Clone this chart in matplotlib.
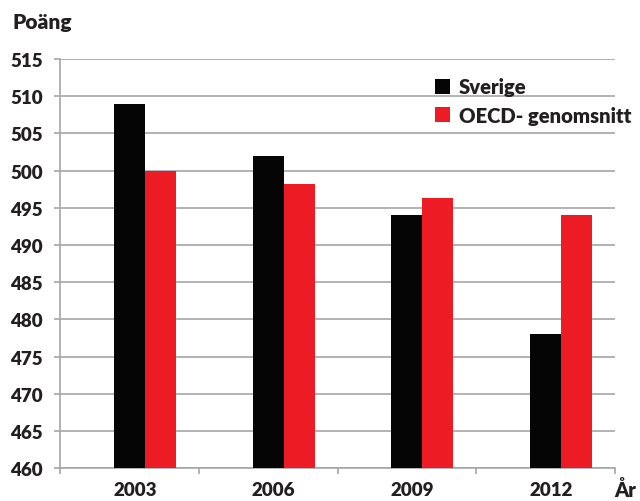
import matplotlib
matplotlib.use("Agg")
import matplotlib.pyplot as plt
import numpy as np

years = ["2003", "2006", "2009", "2012"]
sverige = [509, 502, 494, 478]
oecd = [500, 498.2, 496.3, 494]
series_names = ["Sverige", "OECD- genomsnitt"]
yticks = list(range(460, 516, 5))

plt.rcParams['font.family'] = ['Lato', 'DejaVu Sans']
plt.rcParams['font.weight'] = 800
W = 800
txt = '#231F20'

fig = plt.figure(figsize=(6.4, 5.02), dpi=100)
ax = fig.add_axes([60/640, 1-469.3/502, 555/640, (469.3-60)/502])

x = np.arange(len(years))
w = 0.223
ax.bar(x, [v - 460 for v in sverige], bottom=460, width=w, color='#050505', label=series_names[0], zorder=3)
ax.bar(x + w, [v - 460 for v in oecd], bottom=460, width=w, color='#ED1C24', label=series_names[1], zorder=3)

ax.set_ylim(460, 515)
ax.set_xlim(-0.5, len(years) - 0.5)
ax.set_yticks(yticks)
ax.set_yticklabels([str(t) for t in yticks], fontsize=13.5, fontweight=W, color=txt)
ax.yaxis.grid(True, color='#A6A6A6', linewidth=1.2, zorder=0)
ax.set_axisbelow(True)

ax.set_xticks(np.arange(-0.5, len(years), 1.0))
ax.set_xticklabels([])
ax.set_xticks(x + 0.04, minor=True)
ax.set_xticklabels(years, minor=True, fontsize=13.5, fontweight=W, color=txt)
ax.tick_params(axis='x', which='major', length=4, color='#A6A6A6', width=1.2)
ax.tick_params(axis='x', which='minor', length=0, pad=9)
ax.tick_params(axis='y', length=4.3, color='#A6A6A6', width=1.2, pad=8)

for s in ['top', 'right']:
    ax.spines[s].set_visible(False)
for s in ['left', 'bottom']:
    ax.spines[s].set_color('#A6A6A6')
    ax.spines[s].set_linewidth(1.2)

leg = ax.legend(loc='upper left', bbox_to_anchor=(421/640, 1-64/502), bbox_transform=fig.transFigure,
                frameon=False, handlelength=0.73, handleheight=0.75, handletextpad=0.45,
                labelspacing=0.48, borderpad=0.2,
                prop={'family': ['Lato', 'DejaVu Sans'], 'weight': W, 'size': 14.6})
for t in leg.get_texts():
    t.set_color(txt)

fig.text(12/640, 1-22/502, "Poäng", fontsize=15, fontweight=W, color=txt, va='center', ha='left')
fig.text(614/640, 1-490/502, "År", fontsize=14.5, fontweight=W, color=txt, va='center', ha='left')

fig.savefig("out.png", dpi=100)
